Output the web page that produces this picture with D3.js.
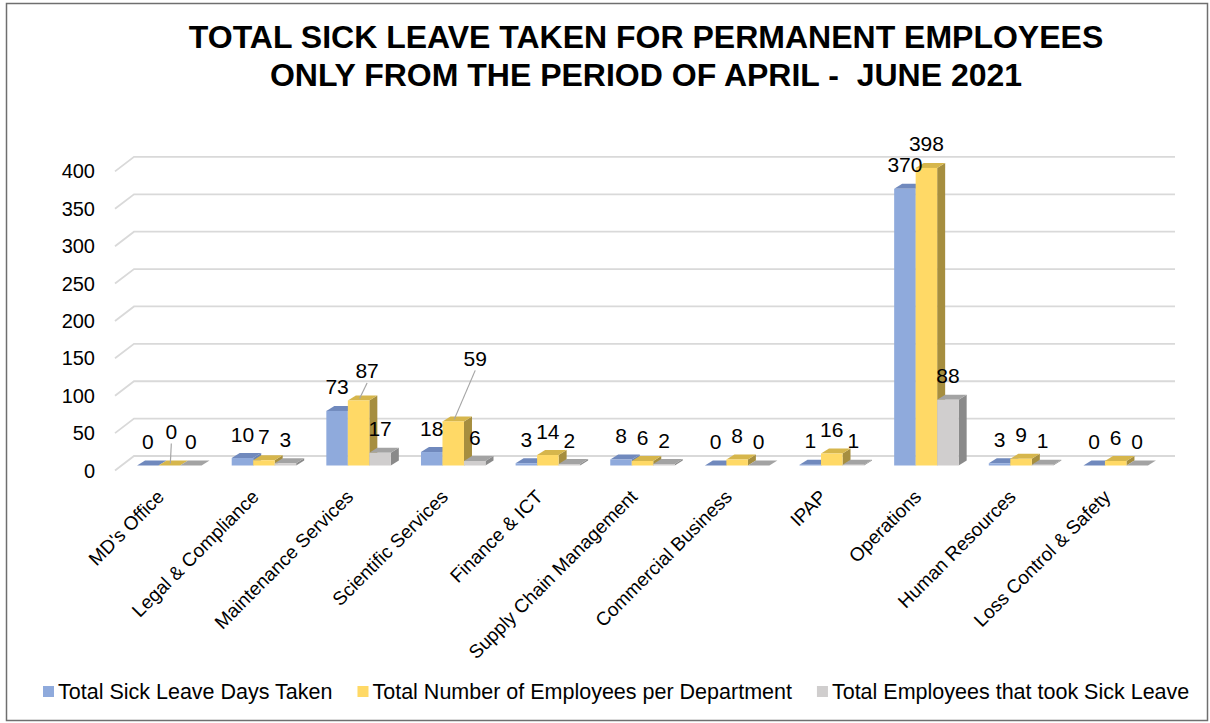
<!DOCTYPE html>
<meta charset="utf-8">
<style>
body { margin: 0; background: #fff; }
svg { font-family: "Liberation Sans", Arial, sans-serif; }
.tick-label { font-size: 20px; fill: #000; }
.x-label { font-size: 19px; fill: #000; }
.data-label { font-size: 21px; fill: #000; }
.legend text { font-size: 21.5px; fill: #000; }
.title { font-size: 32px; font-weight: bold; fill: #000; }
</style>
<body>
<div id="chart"></div>
<script src="https://cdn.jsdelivr.net/npm/d3@7"></script>
<script>

// data
var categories = ["MD's Office", "Legal & Compliance", "Maintenance Services", "Scientific Services",
    "Finance & ICT", "Supply Chain Management", "Commercial Business", "IPAP", "Operations",
    "Human Resources", "Loss Control & Safety"];
var sickDays   = [0, 10, 73, 18, 3, 8, 0, 1, 370, 3, 0];
var employees  = [0, 7, 87, 59, 14, 6, 8, 16, 398, 9, 6];
var tookLeave  = [0, 3, 17, 6, 2, 2, 0, 1, 88, 1, 0];
var seriesNames = ["Total Sick Leave Days Taken", "Total Number of Employees per Department",
    "Total Employees that took Sick Leave"];
var yTicks = [0, 50, 100, 150, 200, 250, 300, 350, 400];
var titleLines = ["TOTAL SICK LEAVE TAKEN FOR PERMANENT EMPLOYEES",
    "ONLY FROM THE PERIOD OF APRIL -\u00a0 JUNE 2021"];

// colours: front, top, side
var colors = [
    {front: "#8faadc", top: "#7089bd", side: "#6a82b2"},
    {front: "#ffd966", top: "#d6b64c", side: "#a68e3f"},
    {front: "#d0cece", top: "#a3a3a3", side: "#8a8a8a"}
];

// a few labels that excel moved away from the bar (with a leader line)
var labelNudge = {
    "0|1": {dx: 2, dy: -10},
    "2|1": {dx: 8.5, dy: -5.5},
    "3|1": {dx: 22, dy: -39}
};

var W = 1210, H = 723;
var wall = {dx: 19, dy: -14.5};     // front plane -> back wall
var barOff = {dx: 7, dy: -5};       // front plane -> bar front face
var barDepth = {dx: 8, dy: -5};     // bar front -> bar back
var barW = 21.5;

var svg = d3.select("#chart").append("svg")
    .attr("width", W)
    .attr("height", H);

// border
svg.append("rect")
    .attr("x", 6.5).attr("y", 3.5)
    .attr("width", W - 9).attr("height", H - 6)
    .attr("fill", "none")
    .attr("stroke", "#6f6f6f")
    .attr("stroke-width", 1.5);

// title
svg.selectAll(".title")
    .data(titleLines)
    .enter().append("text")
        .attr("class", "title")
        .attr("x", 646)
        .attr("y", (d, i) => 48 + i * 38)
        .attr("text-anchor", "middle")
        .text(d => d);

var x0 = d3.scaleBand()
    .domain(categories)
    .range([115, 1156]);
var x1 = d3.scaleBand()
    .domain([0, 1, 2])
    .range([0, 3 * barW]);
var y = d3.scaleLinear()
    .domain([0, 400])
    .range([470.5, 171.4]);

// gridlines on the back wall, with the diagonal on the left side wall
var grid = svg.append("g");
yTicks.forEach(function(t) {
    var yf = y(t);
    grid.append("path")
        .attr("d", "M" + x0.range()[0] + "," + yf +
                   "L" + (x0.range()[0] + wall.dx) + "," + (yf + wall.dy) +
                   "L" + (x0.range()[1] + wall.dx) + "," + (yf + wall.dy))
        .attr("fill", "none")
        .attr("stroke", "#d9d9d9")
        .attr("stroke-width", 1.8);
});

// y tick labels
svg.selectAll(".tick-label")
    .data(yTicks)
    .enter().append("text")
        .attr("class", "tick-label")
        .attr("x", 95)
        .attr("y", d => y(d) + 7)
        .attr("text-anchor", "end")
        .text(d => d);

var series = [sickDays, employees, tookLeave];

function barX(ci, si) {
    return x0(categories[ci]) + x0.bandwidth() / 2 + barOff.dx - 1.5 * barW + x1(si);
}

var bars = svg.append("g");
categories.forEach(function(cat, ci) {
    series.forEach(function(vals, si) {
        var v = vals[ci];
        var xl = barX(ci, si), xr = xl + barW;
        var yt = y(v) + barOff.dy, yb = y(0) + barOff.dy;
        var dx = barDepth.dx, dy = barDepth.dy;
        var c = colors[si];
        bars.append("path")
            .attr("d", "M" + xr + "," + yt + "L" + (xr + dx) + "," + (yt + dy) +
                       "L" + (xr + dx) + "," + (yb + dy) + "L" + xr + "," + yb + "Z")
            .attr("fill", c.side);
        bars.append("path")
            .attr("d", "M" + xl + "," + yt + "L" + (xl + dx) + "," + (yt + dy) +
                       "L" + (xr + dx) + "," + (yt + dy) + "L" + xr + "," + yt + "Z")
            .attr("fill", c.top);
        bars.append("rect")
            .attr("x", xl)
            .attr("y", yt)
            .attr("width", barW)
            .attr("height", yb - yt)
            .attr("fill", c.front);
    });
});

// data labels
var labels = svg.append("g");
categories.forEach(function(cat, ci) {
    series.forEach(function(vals, si) {
        var v = vals[ci];
        var cx = barX(ci, si) + barW / 2;
        var yt = y(v) + barOff.dy;
        var ly = yt - 24;
        var n = labelNudge[ci + "|" + si];
        var lx = cx;
        if (n) {
            lx += n.dx;
            ly += n.dy;
            labels.append("line")
                .attr("x1", lx)
                .attr("y1", ly + 12)
                .attr("x2", cx + 1)
                .attr("y2", yt - 2)
                .attr("stroke", "#a6a6a6")
                .attr("stroke-width", 1.2);
        }
        labels.append("text")
            .attr("class", "data-label")
            .attr("x", lx)
            .attr("y", ly + 7.5)
            .attr("text-anchor", "middle")
            .text(v);
    });
});

// category labels
svg.selectAll(".x-label")
    .data(categories)
    .enter().append("text")
        .attr("class", "x-label")
        .attr("text-anchor", "end")
        .attr("transform", d => "translate(" + (x0(d) + x0.bandwidth() / 2 + 3) + ",498) rotate(-45)")
        .text(d => d);

// legend
var legend = svg.append("g").attr("class", "legend");
var lx = 43;
seriesNames.forEach(function(name, i) {
    legend.append("rect")
        .attr("x", lx)
        .attr("y", 686)
        .attr("width", 11)
        .attr("height", 11)
        .attr("fill", colors[i].front);
    var t = legend.append("text")
        .attr("x", lx + 15)
        .attr("y", 699)
        .text(name);
    lx += 15 + t.node().getComputedTextLength() + 25;
});

</script>
</body>
